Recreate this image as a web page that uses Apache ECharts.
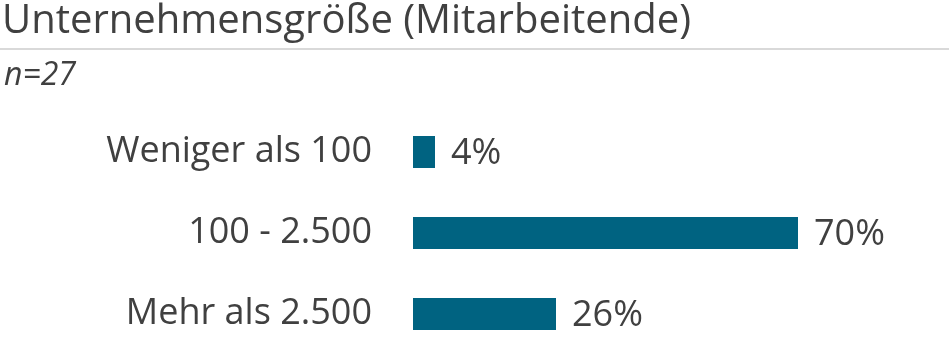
<!DOCTYPE html>
<html><head><meta charset="utf-8">
<script src="https://cdn.jsdelivr.net/npm/echarts@6/dist/echarts.min.js"></script>
<style>html,body{margin:0;padding:0;background:#fff}#c{width:949px;height:340px}</style>
</head><body><div id="c"></div>
<script>
const categories = ["Weniger als 100", "100 - 2.500", "Mehr als 2.500"];
const values = [4, 70, 26];
const titleText = "Unternehmensgröße (Mitarbeitende)";
const noteText = "n=27";

const chart = echarts.init(document.getElementById('c'));
chart.setOption({
  animation: false,
  backgroundColor: '#ffffff',
  title: [{
    text: titleText, left: 0, top: 1.5, padding: [0, 0, 0, 2],
    textStyle: { fontFamily: 'Open Sans', fontSize: 40, fontWeight: 'normal', color: '#404040' }
  }, {
    text: noteText, left: 0, top: 59.5, padding: [0, 0, 0, 4],
    textStyle: { fontFamily: 'Open Sans', fontSize: 32, fontStyle: 'italic', fontWeight: 'normal', color: '#404040' }
  }],
  graphic: [{ type: 'line', shape: { x1: 0, y1: 49, x2: 949, y2: 49 }, style: { stroke: '#d9d9d9', lineWidth: 2 } }],
  grid: { left: 413, top: 152, bottom: 26, width: 440, containLabel: false },
  xAxis: { type: 'value', min: 0, max: 80, show: false },
  yAxis: {
    type: 'category', data: categories, inverse: true, boundaryGap: false,
    axisLine: { show: false }, axisTick: { show: false }, splitLine: { show: false },
    axisLabel: { margin: 41, fontFamily: 'Open Sans', fontSize: 36, color: '#404040' }
  },
  series: [{
    type: 'bar', data: values, barWidth: 32,
    itemStyle: { color: '#006381' },
    label: { show: true, position: 'right', distance: 16, formatter: '{c}%', fontFamily: 'Open Sans', fontSize: 36, color: '#404040', offset: [0, 2] }
  }]
});
</script></body></html>
